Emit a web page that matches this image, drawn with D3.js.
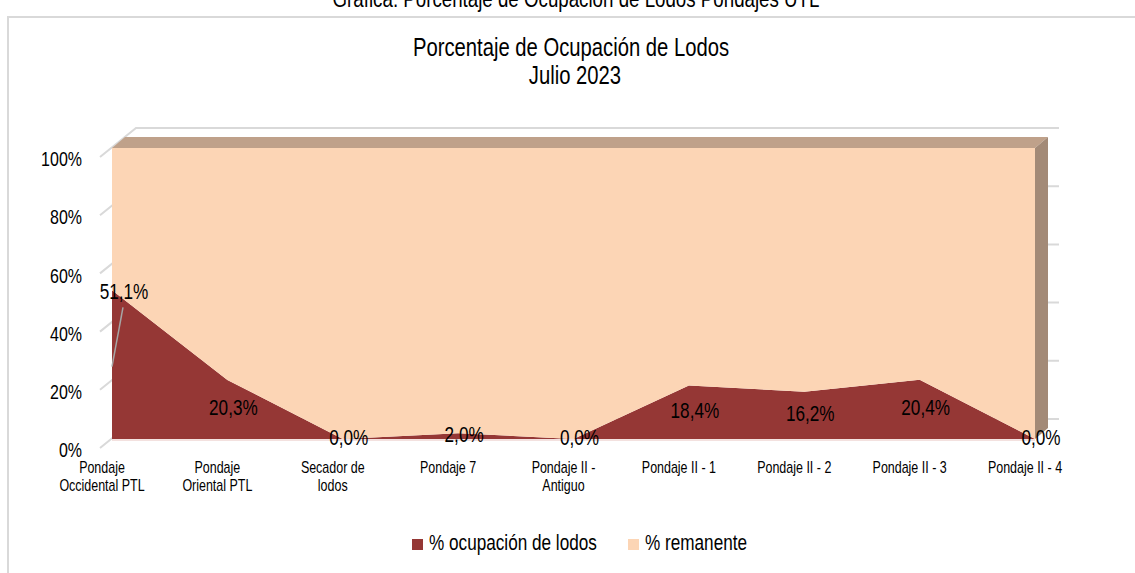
<!DOCTYPE html>
<html>
<head>
<meta charset="utf-8">
<script src="https://cdn.jsdelivr.net/npm/d3@7"></script>
<style>
  body { margin: 0; background: #fff; }
  svg { display: block; font-family: "Liberation Sans", Arial, sans-serif; }
</style>
</head>
<body>
<div id="chart"></div>
<script>
// data
const categories = [
  "Pondaje\nOccidental PTL",
  "Pondaje\nOriental PTL",
  "Secador de\nlodos",
  "Pondaje 7",
  "Pondaje II -\nAntiguo",
  "Pondaje II - 1",
  "Pondaje II - 2",
  "Pondaje II - 3",
  "Pondaje II - 4"
];
const ocupacion = [51.1, 20.3, 0.0, 2.0, 0.0, 18.4, 16.2, 20.4, 0.0];
const remanente = [48.9, 79.7, 100.0, 98.0, 100.0, 81.6, 83.8, 79.6, 100.0];
const yTicks = [0, 20, 40, 60, 80, 100];
const seriesNames = ["% ocupación de lodos", "% remanente"];
const seriesColors = ["#953735", "#fcd5b5"];
const caption = "Gráfica: Porcentaje de Ocupación de Lodos Pondajes UTL";
const titleLines = ["Porcentaje de Ocupación de Lodos", "Julio 2023"];

const W = 1135, H = 573;
const SX = 0.78; // the original uses a narrow face, squeeze Liberation Sans to fit
const format = v => d3.format(".1f")(v).replace(".", ",") + "%";
const narrow = (x, y, s = SX) => `translate(${x},${y}) scale(${s},1)`;

const svg = d3.select("#chart").append("svg")
    .attr("width", W)
    .attr("height", H);

// outer chart frame
svg.append("rect")
    .attr("x", 8).attr("y", 17)
    .attr("width", W + 20).attr("height", H + 20)
    .attr("fill", "none")
    .attr("stroke", "#d9d9d9")
    .attr("stroke-width", 2);

// caption (cut by the top edge in the original)
svg.append("text")
    .attr("transform", narrow(576, 7))
    .attr("text-anchor", "middle")
    .attr("font-size", 24)
    .text(caption);

// title
svg.append("g").selectAll("text")
    .data(titleLines)
    .join("text")
    .attr("transform", (d, i) => narrow(i ? 575 : 571, 56 + i * 28, 0.81))
    .attr("text-anchor", "middle")
    .attr("font-size", 25)
    .text(d => d);

// 3d plot geometry: origin is the front-left-bottom corner of the walls
const origin = { x: 100, y: 448 };
const plotW = 923, plotH = 291;
const dFront = [12, -9], dBack = [25, -20], dWall = [36, -29];

const x = d3.scalePoint().domain(d3.range(categories.length)).range([0, plotW]);
const y = d3.scaleLinear().domain([0, 100]).range([plotH, 0]);

const P = (i, v, d) => [origin.x + x(i) + d[0], origin.y - plotH + y(v) + d[1]];

// walls: gridlines on the left and back walls
const grid = svg.append("g")
    .attr("stroke", "#d9d9d9")
    .attr("stroke-width", 2)
    .attr("fill", "none");

yTicks.forEach(t => {
  const a = [origin.x, origin.y - plotH + y(t)];
  const b = [a[0] + dWall[0], a[1] + dWall[1]];
  const c = [b[0] + plotW, b[1]];
  grid.append("path").attr("d", d3.line()([a, b, c]));
});

// stacked series
const stack = d3.stack().keys([0, 1])(categories.map((c, i) => [ocupacion[i], remanente[i]]));
const last = categories.length - 1;

const series = svg.append("g");

// top face of the stack (only the upper series shows its top)
const upper = stack[1];
const topFront = upper.map((d, i) => P(i, d[1], dFront));
const topBack = upper.map((d, i) => P(i, d[1], dBack)).reverse();
series.append("path")
    .attr("d", d3.line()(topFront.concat(topBack)) + "Z")
    .attr("fill", "#bfa18a");

// right side faces
const sideColors = ["#6b2725", "#a38a77"];
stack.forEach((s, k) => {
  const d = s[last];
  if (d[1] - d[0] <= 0) return;
  series.append("path")
      .attr("d", d3.line()([
        P(last, d[0], dFront), P(last, d[1], dFront),
        P(last, d[1], dBack), P(last, d[0], dBack)
      ]) + "Z")
      .attr("fill", sideColors[k]);
});

// front faces
const area = d3.area()
    .x((d, i) => origin.x + x(i) + dFront[0])
    .y0(d => origin.y - plotH + y(d[0]) + dFront[1])
    .y1(d => origin.y - plotH + y(d[1]) + dFront[1]);

series.selectAll(".front")
    .data(stack)
    .join("path")
    .attr("class", "front")
    .attr("d", area)
    .attr("fill", (d, k) => seriesColors[k]);

// faint floor edge under the front face
series.append("line")
    .attr("x1", origin.x + dFront[0]).attr("x2", origin.x + plotW + dFront[0])
    .attr("y1", origin.y + dFront[1] + 1).attr("y2", origin.y + dFront[1] + 1)
    .attr("stroke", "#e8c4c0").attr("stroke-width", 1);

// data labels for the occupation series (centred on the segment)
const labels = svg.append("g")
    .attr("font-size", 22)
    .attr("text-anchor", "middle");

ocupacion.forEach((v, i) => {
  const anchor = P(i, v / 2, dFront);
  let lx = anchor[0] + 6, ly = anchor[1] - 2;
  if (i === 0) {
    // this label was dragged up in the original, with a leader line
    const moved = P(i, v, dFront);
    lx = moved[0] + 12; ly = moved[1] + 1;
    labels.append("line")
        .attr("x1", lx - 1).attr("y1", ly + 16)
        .attr("x2", anchor[0]).attr("y2", anchor[1] + 2)
        .attr("stroke", "#a6a6a6").attr("stroke-width", 1.5);
  }
  labels.append("text")
      .attr("transform", narrow(lx, ly))
      .attr("dy", "0.35em")
      .text(format(v));
});

// y axis labels
svg.append("g")
    .attr("font-size", 20.5)
    .attr("text-anchor", "end")
    .selectAll("text")
    .data(yTicks)
    .join("text")
    .attr("transform", d => narrow(82, origin.y - plotH + y(d) + 2))
    .attr("dy", "0.35em")
    .text(d => d + "%");

// category labels
const xl = svg.append("g")
    .attr("font-size", 16)
    .attr("text-anchor", "middle");

categories.forEach((c, i) => {
  xl.append("text")
      .attr("transform", narrow(origin.x + x(i) + 2, 473))
      .selectAll("tspan")
      .data(c.split("\n"))
      .join("tspan")
      .attr("x", 0)
      .attr("y", (d, j) => j * 18)
      .text(d => d);
});

// legend
const legendX = [412, 628];
const legend = svg.append("g").attr("font-size", 22);
seriesNames.forEach((name, k) => {
  legend.append("rect")
      .attr("x", legendX[k]).attr("y", 539)
      .attr("width", 11).attr("height", 11)
      .attr("fill", seriesColors[k]);
  legend.append("text")
      .attr("transform", narrow(legendX[k] + 17, 550))
      .text(name);
});
</script>
</body>
</html>
